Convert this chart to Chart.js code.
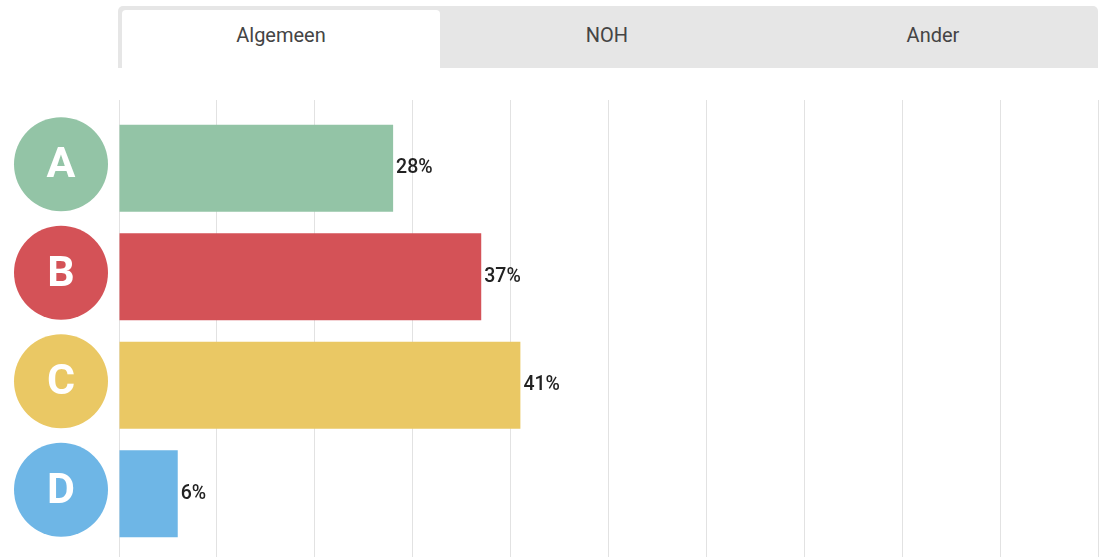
<!DOCTYPE html>
<html>
<head>
<meta charset="utf-8">
<script src="https://cdn.jsdelivr.net/npm/chart.js@4.4.0/dist/chart.umd.min.js"></script>
<style>
  body { margin: 0; background: #fff; font-family: Roboto, sans-serif; }
  #tabs { position: absolute; left: 118px; top: 6px; width: 980px; height: 62px; background: #e6e6e6; border-radius: 5px 5px 0 0; }
  .tab { position: absolute; top: 0; height: 62px; width: 326px; line-height: 58px; text-align: center; font-size: 20px; color: #444; }
  .tab.active { background: #fff; top: 4px; left: 4px; width: 318px; height: 58px; line-height: 50px; border-radius: 4px 4px 0 0; }
  #wrap { position: absolute; left: 0; top: 100px; width: 1106px; height: 457px; }
</style>
</head>
<body>
<div id="tabs">
  <div class="tab active">Algemeen</div>
  <div class="tab" style="left:326px">NOH</div>
  <div class="tab" style="left:652px">Ander</div>
</div>
<div id="wrap"><canvas id="chart-area"></canvas></div>
<script>
var letters = ['A', 'B', 'C', 'D'];
var values = [28, 37, 41, 6];
var colors = ['rgb(147,196,166)', 'rgb(212,82,87)', 'rgb(234,200,100)', 'rgb(110,182,230)'];

var context = document.getElementById("chart-area").getContext("2d");
context.canvas.width = 1106;
context.canvas.height = 457;

// letters in circles on the left + percentage after each bar
var extras = {
	id: 'extras',
	afterDatasetsDraw: function (chart) {
		var ctx = chart.ctx;
		var bars = chart.getDatasetMeta(0).data;
		ctx.save();
		bars.forEach(function (bar, i) {
			ctx.beginPath();
			ctx.arc(61, bar.y - 4, 47, 0, Math.PI * 2);
			ctx.fillStyle = colors[i];
			ctx.fill();
			ctx.fillStyle = '#fff';
			ctx.font = 'bold 43px Roboto';
			ctx.textAlign = 'center';
			ctx.textBaseline = 'middle';
			ctx.fillText(letters[i], 61, bar.y - 2);

			ctx.fillStyle = '#222';
			ctx.font = '500 19.5px Roboto';
			ctx.textAlign = 'left';
			ctx.fillText(values[i] + '%', bar.x + 3, bar.y);
		});
		ctx.restore();
	}
};

var config = {
	type: 'bar',
	data: {
		labels: letters,
		datasets: [{
			data: values,
			backgroundColor: colors,
			barPercentage: 0.8,
			categoryPercentage: 1
		}]
	},
	options: {
		indexAxis: 'y',
		responsive: false,
		animation: false,
		layout: { padding: { right: 8 } },
		plugins: { legend: { display: false }, tooltip: { enabled: false } },
		scales: {
			x: {
				position: 'top',
				min: 0,
				max: 100,
				ticks: { display: false, stepSize: 10 },
				grid: { color: '#e2e2e2', tickLength: 14 },
				border: { display: false },
				afterFit: function (s) { s.height = 14; }
			},
			x2: {
				position: 'bottom',
				min: 0,
				max: 100,
				ticks: { display: false, stepSize: 10 },
				grid: { color: '#e2e2e2', tickLength: 9, drawOnChartArea: false },
				border: { display: false },
				afterFit: function (s) { s.height = 9; }
			},
			y: {
				ticks: { display: false },
				grid: { display: false },
				border: { display: false },
				afterFit: function (s) { s.width = 119; }
			}
		}
	},
	plugins: [extras]
};

window.myBars = new Chart(context, config);
</script>
</body>
</html>
